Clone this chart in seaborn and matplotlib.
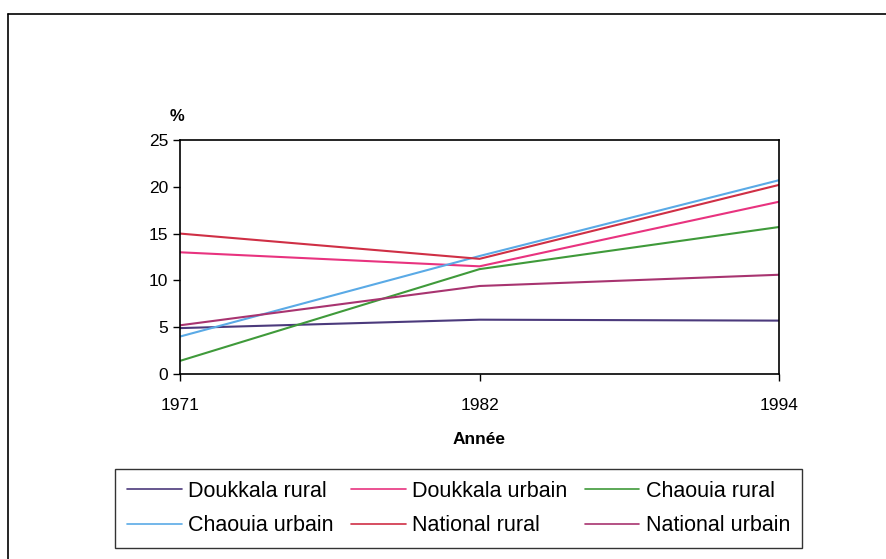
import pandas as pd
import matplotlib.pyplot as plt
import seaborn as sns
from matplotlib.lines import Line2D

sns.set_theme(style="white")
plt.rcParams['font.family'] = ['Liberation Sans', 'DejaVu Sans']
plt.rcParams.update({"text.color": "black", "axes.labelcolor": "black",
                     "xtick.color": "black", "ytick.color": "black"})

# Données
annees = ["1971", "1982", "1994"]
series = ["Doukkala rural", "Doukkala urbain", "Chaouia rural",
          "Chaouia urbain", "National rural", "National urbain"]
doukkala_rural = [4.9, 5.8, 5.7]
doukkala_urbain = [13.0, 11.5, 18.4]
chaouia_rural = [1.4, 11.2, 15.7]
chaouia_urbain = [4.0, 12.6, 20.7]
national_rural = [15.0, 12.3, 20.2]
national_urbain = [5.2, 9.4, 10.6]

couleurs = {
    "Doukkala rural": "#4b3a7c",
    "Doukkala urbain": "#e8337f",
    "Chaouia rural": "#3f9a3a",
    "Chaouia urbain": "#5aaae6",
    "National rural": "#cf2f45",
    "National urbain": "#a83470",
}

valeurs = [doukkala_rural, doukkala_urbain, chaouia_rural,
           chaouia_urbain, national_rural, national_urbain]
df = pd.DataFrame([
    {"annee": a, "pos": i, "serie": s, "valeur": v[i]}
    for s, v in zip(series, valeurs) for i, a in enumerate(annees)
])

fig = plt.figure(figsize=(8.86, 5.59), dpi=100)
ax = fig.add_axes([0.2032, 0.331, 0.676, 0.4186])

sns.lineplot(data=df, x="pos", y="valeur", hue="serie", hue_order=series,
             palette=couleurs, linewidth=1.5, ax=ax, legend=False)

ax.set_xlim(0, 2)
ax.set_ylim(0, 25)
ax.set_xticks(range(len(annees)))
ax.set_xticklabels(annees)
ax.set_yticks([0, 5, 10, 15, 20, 25])
ax.tick_params(axis="both", labelsize=12.5, direction="out", length=5,
               width=1, color="black", left=True, bottom=True)
ax.tick_params(axis="x", pad=12)
for sp in ax.spines.values():
    sp.set_color("black")
    sp.set_linewidth(1.2)

ax.set_xlabel("Année", fontsize=12.5, fontweight="bold", labelpad=14)
ax.set_ylabel("")
ax.text(-0.005, 1.07, "%", transform=ax.transAxes, fontsize=12,
        fontweight="bold", ha="center", va="bottom")

# Légende (ordre ligne par ligne, comme Excel)
ordre = [0, 3, 1, 4, 2, 5]
handles = [Line2D([], [], color=couleurs[series[i]], linewidth=1.2) for i in ordre]
labels = [series[i] for i in ordre]
leg = fig.legend(handles, labels, ncol=3, loc="center",
                 bbox_to_anchor=(0.5175, 0.0903), fontsize=15.5,
                 frameon=True, fancybox=False, edgecolor="black",
                 handlelength=2.55, handletextpad=0.3, columnspacing=0.8,
                 labelspacing=0.64, borderpad=0.52)
leg.get_frame().set_linewidth(1)

# Cadre extérieur
fig.add_artist(Line2D([0.0095, 0.0095], [0, 0.975], color="black", linewidth=1.2))
fig.add_artist(Line2D([0.0095, 1], [0.975, 0.975], color="black", linewidth=1.2))

fig.savefig("out.png", dpi=100)
